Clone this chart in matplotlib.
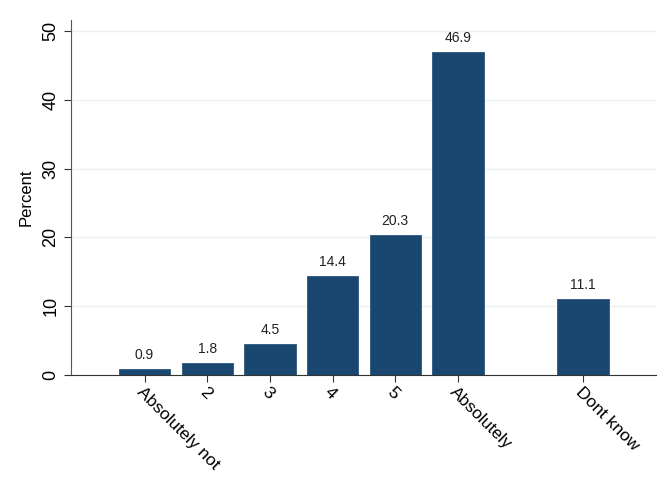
import matplotlib
matplotlib.use("Agg")
import matplotlib.pyplot as plt

categories = ["Absolutely not", "2", "3", "4", "5", "Absolutely", "Dont know"]
positions = [1, 2, 3, 4, 5, 6, 8]
percent = [0.9, 1.8, 4.5, 14.4, 20.3, 46.9, 11.1]

plt.rcParams['font.family'] = ['Liberation Sans', 'DejaVu Sans']

fig = plt.figure(figsize=(6.72, 4.98), dpi=100)
ax = fig.add_axes([0.106, 0.247, 0.870, 0.713])

ax.bar(positions, percent, width=0.82, color='#1a476f', edgecolor='#1a476f',
       linewidth=0.5, zorder=3)
for x, v in zip(positions, percent):
    ax.text(x, v + 1.0, f"{v:.1f}", ha='center', va='bottom', fontsize=10,
            color='#222222')

ax.set_xlim(-0.17, 9.16)
ax.set_ylim(0, 51.6)
ax.set_yticks([0, 10, 20, 30, 40, 50])
ax.set_yticklabels(["0", "10", "20", "30", "40", "50"], rotation=90, va='center',
                   fontsize=13)
ax.set_xticks(positions)
ax.set_xticklabels(categories, rotation=-45, ha='left', va='top',
                   rotation_mode='anchor', fontsize=12.5)
ax.set_ylabel("Percent", fontsize=12, labelpad=6)

ax.grid(axis='y', color='#eaf2f3', linewidth=1.0, zorder=0)
ax.set_axisbelow(True)
for s in ['top', 'right']:
    ax.spines[s].set_visible(False)
ax.spines['left'].set_color('#555555')
ax.spines['bottom'].set_color('#333333')
ax.tick_params(axis='both', colors='#333333', labelcolor='black', length=5)
ax.tick_params(axis='x', pad=2)

fig.savefig("out.png", dpi=100, facecolor='white')
